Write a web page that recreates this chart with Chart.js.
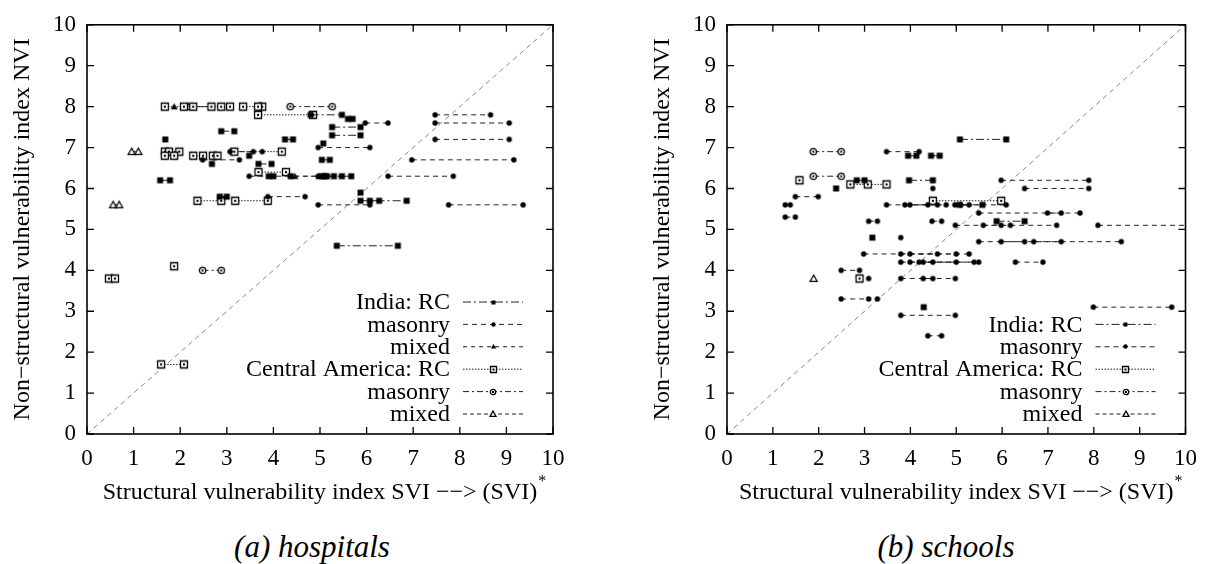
<!DOCTYPE html>
<html>
<head>
<meta charset="utf-8">
<script src="https://cdn.jsdelivr.net/npm/chart.js@4/dist/chart.umd.min.js"></script>
<style>
  body { margin: 0; background: #fff; }
  #wrap { position: relative; width: 1208px; height: 564px; overflow: hidden; }
  .panel { position: absolute; top: 0; width: 604px; height: 510px; }
  .caption {
    position: absolute; top: 529px; width: 320px; text-align: center;
    font-family: 'Liberation Serif', 'DejaVu Serif', serif; font-style: italic; font-size: 31px;
  }
</style>
</head>
<body>
<div id="wrap">
  <div class="panel" style="left:0"><canvas class="js-hosp" width="604" height="510"></canvas></div>
  <div class="panel" style="left:604px"><canvas class="js-school" width="604" height="510"></canvas></div>
  <div class="caption" style="left:152px">(a) hospitals</div>
  <div class="caption" style="left:786px">(b) schools</div>
</div>
<script>
// each row: [NVI, SVI, SVI*]  -> drawn as SVI --- SVI* at height NVI
const hospIndiaRC = [
  [7.8, 4.8, 5.47], [7.7, 5.6, 5.7], [7.5, 5.26, 5.87], [7.3, 5.26, 5.87],
  [7.4, 2.88, 3.16], [7.2, 1.68, 1.68], [7.2, 4.25, 4.42], [7.1, 5.07, 5.07],
  [6.8, 3.48, 3.48], [6.7, 5.04, 5.21], [6.6, 2.68, 2.68], [6.6, 3.68, 3.96],
  [6.3, 3.9, 4.0], [6.3, 4.37, 4.37], [6.3, 5.05, 5.47], [6.3, 5.15, 5.67],
  [6.3, 5.1, 5.3], [6.2, 1.57, 1.78], [5.9, 5.87, 5.87], [5.8, 2.85, 3.0],
  [5.7, 5.87, 6.86], [5.7, 6.07, 6.27], [4.6, 5.36, 6.67]
];
const hospIndiaMas = [
  [7.8, 7.47, 8.66], [7.6, 5.97, 6.46], [7.6, 7.47, 9.06], [7.2, 7.47, 9.06],
  [7.0, 4.96, 6.07], [6.9, 3.07, 3.57], [6.9, 3.76, 3.76], [6.7, 2.48, 3.27],
  [6.7, 6.97, 9.16], [6.3, 3.48, 4.96], [6.3, 6.46, 7.86], [5.8, 3.88, 4.68],
  [5.6, 4.96, 6.07], [5.6, 7.76, 9.36]
];
const hospIndiaMix = [[8.0, 1.87, 1.87], [6.3, 4.46, 4.98]];
const hospCARC = [
  [8.0, 1.67, 2.67], [8.0, 2.08, 2.88], [8.0, 2.28, 3.07], [8.0, 3.35, 3.76],
  [8.0, 3.67, 3.67], [7.8, 3.67, 4.85], [6.9, 1.67, 1.98], [6.9, 1.76, 1.76],
  [6.9, 3.16, 4.18], [6.8, 1.67, 1.87], [6.8, 2.28, 2.49], [6.8, 2.7, 2.8],
  [6.4, 3.68, 4.27], [5.7, 2.37, 2.88], [5.7, 3.18, 3.88], [4.1, 1.87, 1.87],
  [3.8, 0.47, 0.6], [1.7, 1.59, 2.08]
];
const hospCAMas = [[8.0, 4.36, 5.26], [4.0, 2.48, 2.88]];
const hospCAMix = [[8.0, 2.17, 2.17], [6.9, 0.96, 1.1], [5.6, 0.56, 0.69]];

const schIndiaRC = [
  [7.2, 5.08, 6.09], [6.8, 3.95, 4.13], [6.8, 4.45, 4.64], [6.2, 2.83, 3.0],
  [6.2, 3.97, 4.49], [6.0, 2.38, 2.38], [5.6, 5.07, 5.57], [5.2, 5.88, 6.49],
  [4.8, 3.17, 3.17], [3.1, 4.29, 4.29]
];
const schIndiaMas = [
  [6.9, 3.48, 4.19], [6.2, 5.98, 7.89], [6.0, 4.49, 4.49], [6.0, 6.49, 7.89],
  [5.8, 1.49, 1.99], [5.6, 1.27, 1.38], [5.6, 3.48, 4.38], [5.6, 3.88, 4.59],
  [5.6, 3.99, 4.78], [5.6, 4.97, 6.09], [5.6, 5.1, 5.28], [5.4, 5.49, 7.29],
  [5.4, 6.99, 7.7], [5.3, 1.27, 1.49], [5.2, 3.09, 3.28], [5.2, 4.47, 4.68],
  [5.1, 4.98, 5.98], [5.1, 5.59, 7.19], [5.1, 6.18, 6.18], [5.1, 8.09, 10.6],
  [4.8, 3.79, 3.79], [4.7, 5.49, 6.49], [4.7, 5.98, 7.29], [4.7, 6.69, 8.6],
  [4.4, 2.98, 4.59], [4.4, 3.79, 5.0], [4.4, 3.99, 5.28], [4.2, 3.79, 4.49],
  [4.2, 3.99, 5.0], [4.2, 4.19, 5.39], [4.2, 4.28, 5.49], [4.2, 6.29, 6.89],
  [4.0, 2.49, 2.89], [3.8, 3.09, 3.09], [3.8, 3.79, 4.98], [3.8, 4.28, 4.49],
  [3.3, 2.49, 3.09], [3.3, 3.28, 3.28], [3.1, 7.99, 9.7], [2.9, 3.79, 4.98],
  [2.4, 4.38, 4.68]
];
const schCARC = [[6.2, 1.58, 1.58], [6.1, 2.69, 3.48], [6.1, 3.07, 3.07], [5.7, 4.49, 5.98], [3.8, 2.89, 2.89]];
const schCAMas = [[6.9, 1.88, 2.49], [6.3, 1.88, 2.49]];
const schCAMix = [[3.8, 1.89, 1.89]];

const diagLine = [0, 10];
const xTicks = [0, 1, 2, 3, 4, 5, 6, 7, 8, 9, 10];
const yTicks = [0, 1, 2, 3, 4, 5, 6, 7, 8, 9, 10];
const hospLegend = ['India: RC', 'masonry', 'mixed', 'Central America: RC', 'masonry', 'mixed'];
const schLegend = ['India: RC', 'masonry', 'Central America: RC', 'masonry', 'mixed'];

const serif = "'Liberation Serif', 'DejaVu Serif', serif";
const textSize = 24;

const makeMarker = function (shape, size, filled, dot) {
  const c = document.createElement('canvas');
  const s = size + 4;
  c.width = s;
  c.height = s;
  const ctx = c.getContext('2d');
  const m = s / 2,
    h = size / 2;
  ctx.strokeStyle = '#000';
  ctx.lineWidth = 1.3;
  ctx.beginPath();
  if (shape == 'square') {
    ctx.rect(m - h + 0.5, m - h + 0.5, size - 1, size - 1);
  } else if (shape == 'circle') {
    ctx.arc(m, m, h - 0.3, 0, 2 * Math.PI);
  } else {
    ctx.moveTo(m, m - h);
    ctx.lineTo(m + h, m + h * 0.8);
    ctx.lineTo(m - h, m + h * 0.8);
    ctx.closePath();
  }
  if (filled) {
    ctx.fillStyle = '#000';
    ctx.fill();
  } else {
    ctx.fillStyle = '#fff';
    ctx.fill();
    ctx.stroke();
    if (dot) {
      ctx.fillStyle = '#000';
      ctx.fillRect(m - 1, m - 1, 2, 2);
    }
  }
  return c;
};

// marker + line style for each kind of building
const styles = {
  indiaRC: { marker: makeMarker('square', 7, true), small: makeMarker('square', 5, true), dash: [8, 3, 2, 3] },
  indiaMas: { marker: makeMarker('circle', 6, true), small: makeMarker('circle', 5, true), dash: [5, 4] },
  indiaMix: { marker: makeMarker('triangle', 7, true), small: makeMarker('triangle', 5, true), dash: [4, 4] },
  caRC: { marker: makeMarker('square', 8, false, true), small: makeMarker('square', 7, false, true), dash: [1.5, 1.5] },
  caMas: { marker: makeMarker('circle', 7, false, true), small: makeMarker('circle', 6, false, true), dash: [6, 3, 2, 3] },
  caMix: { marker: makeMarker('triangle', 7, false), small: makeMarker('triangle', 6, false), dash: [4, 3] },
};

const buildSegments = function (rows) {
  const pts = [];
  for (let r of rows) {
    pts.push({ x: r[1], y: r[0] });
    if (r[2] != r[1]) pts.push({ x: r[2], y: r[0] });
    pts.push({ x: NaN, y: NaN });
  }
  return pts;
};

const makeDataset = function (rows, style) {
  return {
    data: buildSegments(rows),
    showLine: true,
    spanGaps: false,
    borderColor: '#222',
    borderWidth: 1,
    borderDash: style.dash,
    pointStyle: style.marker,
    pointRadius: 4,
    order: 1,
  };
};

const frame = {
  id: 'frame',
  afterDraw(chart, args, opts) {
    const ctx = chart.ctx,
      a = chart.chartArea;
    const xs = chart.scales.x,
      ys = chart.scales.y;
    ctx.save();
    ctx.setLineDash([]);
    ctx.strokeStyle = '#000';
    ctx.lineWidth = 1.6;
    ctx.strokeRect(a.left, a.top, a.right - a.left, a.bottom - a.top);
    ctx.lineWidth = 1.3;
    ctx.beginPath();
    for (let t of xTicks) {
      const px = xs.getPixelForValue(t);
      ctx.moveTo(px, a.bottom);
      ctx.lineTo(px, a.bottom - 7);
      ctx.moveTo(px, a.top);
      ctx.lineTo(px, a.top + 7);
    }
    for (let t of yTicks) {
      const py = ys.getPixelForValue(t);
      ctx.moveTo(a.left, py);
      ctx.lineTo(a.left + 7, py);
      ctx.moveTo(a.right, py);
      ctx.lineTo(a.right - 7, py);
    }
    ctx.stroke();

    // superscript star after the x title
    ctx.font = textSize + 'px ' + serif;
    const title = xs.options.title.text;
    const w = ctx.measureText(title).width;
    ctx.fillStyle = '#000';
    ctx.font = '16px ' + serif;
    ctx.textBaseline = 'middle';
    ctx.fillText('*', (a.left + a.right) / 2 + w / 2 + 1, 482);

    // legend inside the plot, text right aligned before the sample line
    const entries = opts.entries;
    ctx.font = textSize + 'px ' + serif;
    ctx.textAlign = 'right';
    ctx.textBaseline = 'middle';
    const right = a.right;
    for (let i = 0; i < entries.length; i++) {
      const y = a.bottom - 20 - (entries.length - 1 - i) * 22.4;
      const st = styles[entries[i].key];
      ctx.fillStyle = '#000';
      ctx.fillText(entries[i].label, right - 103, y + 1);
      ctx.strokeStyle = '#222';
      ctx.lineWidth = 1;
      ctx.setLineDash(st.dash);
      ctx.beginPath();
      ctx.moveTo(right - 90, y);
      ctx.lineTo(right - 30, y);
      ctx.stroke();
      ctx.setLineDash([]);
      ctx.drawImage(st.small, Math.round(right - 60 - st.small.width / 2), Math.round(y - st.small.height / 2));
    }
    ctx.restore();
  },
};

const createChart = function (canvas, sets, legend, padLeft, padRight) {
  const datasets = sets.map((s) => makeDataset(s.rows, styles[s.key]));
  datasets.push({
    data: diagLine.map((v) => ({ x: v, y: v })),
    showLine: true,
    borderColor: '#888',
    borderWidth: 1,
    borderDash: [5, 4],
    pointRadius: 0,
    order: 10,
  });
  return new Chart(canvas, {
    type: 'scatter',
    data: { datasets: datasets },
    plugins: [frame],
    options: {
      responsive: false,
      animation: false,
      layout: { padding: { left: padLeft, right: padRight, top: 17, bottom: 0 } },
      plugins: {
        legend: { display: false },
        tooltip: { enabled: false },
        frame: { entries: legend },
      },
      scales: {
        x: {
          type: 'linear',
          min: 0,
          max: 10,
          afterFit: (scale) => {
            scale.height = 76;
          },
          grid: { display: false, drawTicks: false },
          border: { display: false },
          ticks: {
            stepSize: 1,
            padding: 11,
            color: '#000',
            font: { family: serif, size: 23 },
          },
          title: {
            display: true,
            text: 'Structural vulnerability index SVI \u2212\u2212> (SVI)',
            color: '#000',
            font: { family: serif, size: textSize },
            padding: { top: 0, bottom: 3 },
          },
        },
        y: {
          type: 'linear',
          min: 0,
          max: 10,
          afterFit: (scale) => {
            scale.width = 87;
          },
          grid: { display: false, drawTicks: false },
          border: { display: false },
          ticks: {
            stepSize: 1,
            padding: 11,
            color: '#000',
            font: { family: serif, size: 23 },
          },
          title: {
            display: true,
            text: 'Non\u2212structural vulnerability index NVI',
            color: '#000',
            font: { family: serif, size: textSize },
            padding: { top: 8, bottom: 0 },
          },
        },
      },
    },
  });
};

const init = function () {
  createChart(
    document.querySelector('.js-hosp'),
    [
      { key: 'indiaRC', rows: hospIndiaRC },
      { key: 'indiaMas', rows: hospIndiaMas },
      { key: 'indiaMix', rows: hospIndiaMix },
      { key: 'caRC', rows: hospCARC },
      { key: 'caMas', rows: hospCAMas },
      { key: 'caMix', rows: hospCAMix },
    ],
    [
      { key: 'indiaRC', label: hospLegend[0] },
      { key: 'indiaMas', label: hospLegend[1] },
      { key: 'indiaMix', label: hospLegend[2] },
      { key: 'caRC', label: hospLegend[3] },
      { key: 'caMas', label: hospLegend[4] },
      { key: 'caMix', label: hospLegend[5] },
    ],
    0,
    51
  );
  createChart(
    document.querySelector('.js-school'),
    [
      { key: 'indiaRC', rows: schIndiaRC },
      { key: 'indiaMas', rows: schIndiaMas },
      { key: 'caRC', rows: schCARC },
      { key: 'caMas', rows: schCAMas },
      { key: 'caMix', rows: schCAMix },
    ],
    [
      { key: 'indiaRC', label: schLegend[0] },
      { key: 'indiaMas', label: schLegend[1] },
      { key: 'caRC', label: schLegend[2] },
      { key: 'caMas', label: schLegend[3] },
      { key: 'caMix', label: schLegend[4] },
    ],
    36,
    18
  );
};
document.addEventListener('DOMContentLoaded', function () {
  // make sure the serif face is ready before the canvas draws text
  Promise.all([
    document.fonts.load('24px "Liberation Serif"'),
    document.fonts.load('italic 31px "Liberation Serif"'),
  ]).then(init, init);
});
</script>
</body>
</html>
